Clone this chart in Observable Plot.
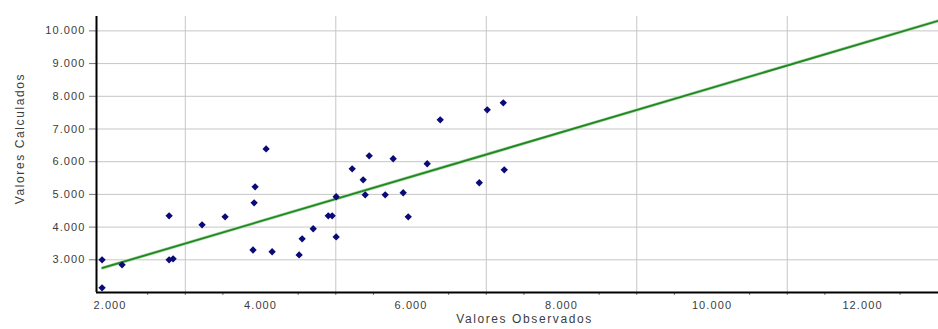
<!DOCTYPE html>
<html>
<head>
<meta charset="utf-8">
<script src="https://cdn.jsdelivr.net/npm/d3@7"></script>
<script src="https://cdn.jsdelivr.net/npm/@observablehq/plot@0.6"></script>
<style>
  html, body { margin: 0; padding: 0; background: #fff; }
  #chart svg { display: block; }
  #chart svg text { letter-spacing: 1.1px; }
  #chart g[aria-label="text"] text { letter-spacing: 1.6px; }
</style>
</head>
<body>
<div id="chart"></div>
<script>
const observados = [1894, 1894, 2160, 2785, 2785, 2838, 3223, 3529, 3928, 3915, 3900, 4074, 4154, 4513, 4553, 4700,
  4900, 4952, 5005, 5005, 5218, 5364, 5391, 5444, 5657, 5763, 5896, 5963, 6215, 6388, 6907, 7013, 7226, 7239];
const calculados = [3000, 2144, 2847, 4345, 3000, 3030, 4070, 4315, 5230, 4743, 3300, 6390, 3245, 3150, 3640, 3950,
  4345, 4345, 3700, 4927, 5783, 5446, 4988, 6180, 4988, 6090, 5050, 4315, 5936, 7280, 5355, 7587, 7800, 5752];

// Trend line end points
const trendX = [1900, 13010];
const trendY = [2750, 10310];

// Ticks
const yTicks = [3000, 4000, 5000, 6000, 7000, 8000, 9000, 10000];
const xLabels = [2000, 4000, 6000, 8000, 10000, 12000];
const xGrid = [3000, 5000, 7000, 9000, 11000];
const xMinor = [2500, 3000, 3500, 4500, 5000, 5500, 6500, 7000, 7500, 8500, 9000, 9500, 10500, 11000, 11500, 12500];

const xTitle = "Valores Observados";
const yTitle = "Valores Calculados";

const points = observados.map((x, i) => ({x, y: calculados[i]}));
const trend = trendX.map((x, i) => ({x, y: trendY[i]}));
const fmt = d => d3.format(",")(d).replace(/,/g, ".");

const xMin = 1820, xMax = 13010, yMin = 2000, yMax = 10440;
const textColor = "#3c3c3c";

const chart = Plot.plot({
  width: 938,
  height: 329,
  marginLeft: 96,
  marginRight: 0,
  marginTop: 16,
  marginBottom: 37,
  style: {fontFamily: "'Liberation Sans', Arial, sans-serif", fontSize: "11px", background: "#fff", overflow: "visible"},
  x: {domain: [xMin, xMax]},
  y: {domain: [yMin, yMax]},
  marks: [
    Plot.gridY(yTicks, {stroke: "#c6c6c6", strokeOpacity: 1, strokeWidth: 1}),
    Plot.gridX(xGrid, {stroke: "#c6c6c6", strokeOpacity: 1, strokeWidth: 1}),
    Plot.axisY(yTicks, {tickSize: 7, tickPadding: 4, tickFormat: fmt, label: null, stroke: "#777", fill: textColor, fontSize: 11}),
    Plot.axisX(xLabels, {tickSize: 0, tickPadding: 9, tickFormat: fmt, label: null, fill: textColor, fontSize: 11}),
    Plot.axisX(xMinor, {tickSize: 3, tickFormat: () => "", label: null, stroke: "#777"}),
    Plot.line(trend, {x: "x", y: "y", stroke: "#a6d8a6", strokeWidth: 3.2}),
    Plot.line(trend, {x: "x", y: "y", stroke: "#228622", strokeWidth: 1.8}),
    Plot.dot(points, {x: "x", y: "y", symbol: "diamond2", r: 3.3, fill: "#0a0a78", stroke: "none"}),
    Plot.ruleX([xMin], {y1: yMin, y2: yMax, stroke: "#000", strokeWidth: 2}),
    Plot.ruleY([yMin], {x1: xMin, x2: xMax, stroke: "#000", strokeWidth: 2}),
    Plot.text([xTitle], {frameAnchor: "bottom", dx: 7, dy: 30, fill: textColor, fontSize: 12, lineAnchor: "bottom"}),
    Plot.text([yTitle], {frameAnchor: "left", textAnchor: "middle", rotate: -90, dx: -76, dy: -16, fill: textColor, fontSize: 12})
  ]
});
document.getElementById("chart").appendChild(chart);
</script>
</body>
</html>
